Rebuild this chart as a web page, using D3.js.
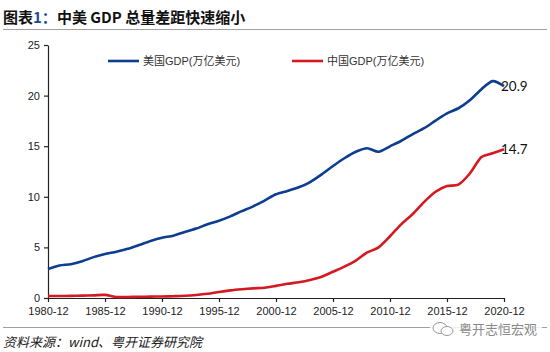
<!DOCTYPE html>
<html>
<head>
<meta charset="utf-8">
<script src="https://cdn.jsdelivr.net/npm/d3@7"></script>
<style>
  body { margin: 0; background: #fff; }
  svg { display: block; font-family: "Liberation Sans", Arial, "Noto Sans CJK SC", sans-serif; }
</style>
</head>
<body>
<div id="chart"></div>
<script>
// annual data, 1980 - 2020
var years = d3.range(1980, 2021);
var usGdp = [2.86, 3.21, 3.34, 3.63, 4.04, 4.34, 4.58, 4.86, 5.24, 5.64,
    5.96, 6.16, 6.52, 6.86, 7.29, 7.64, 8.07, 8.58, 9.06, 9.63,
    10.25, 10.58, 10.94, 11.46, 12.21, 13.04, 13.81, 14.45, 14.8, 14.45,
    14.99, 15.54, 16.2, 16.78, 17.53, 18.24, 18.75, 19.54, 20.61, 21.43, 20.94];
var cnGdp = [0.2, 0.2, 0.21, 0.23, 0.26, 0.31, 0.1, 0.1, 0.12, 0.14,
    0.15, 0.18, 0.22, 0.3, 0.42, 0.6, 0.75, 0.86, 0.95, 1.02,
    1.2, 1.4, 1.55, 1.78, 2.1, 2.6, 3.1, 3.7, 4.5, 5.0,
    6.1, 7.3, 8.3, 9.5, 10.5, 11.06, 11.2, 12.3, 13.9, 14.3, 14.7];
var xTicks = [1980, 1985, 1990, 1995, 2000, 2005, 2010, 2015, 2020];
var yTicks = [0, 5, 10, 15, 20, 25];
var seriesNames = ["美国GDP(万亿美元)", "中国GDP(万亿美元)"];
var colors = ["#0b3d91", "#d51920"];

var W = 550, H = 352;
var margin = { top: 45, right: 46, bottom: 54, left: 48 };

var svg = d3.select("#chart").append("svg")
    .attr("width", W)
    .attr("height", H);

// title
var title = svg.append("text")
    .attr("x", 3)
    .attr("y", 23)
    .style("font-family", "'Noto Sans CJK SC', sans-serif")
    .style("font-size", "15px")
    .style("font-weight", "bold")
    .attr("fill", "#111");
title.append("tspan").text("图表");
title.append("tspan").attr("fill", "#1f4a93").text("1：");
title.append("tspan").text("中美 GDP 总量差距快速缩小");

svg.append("line")
    .attr("x1", 3).attr("x2", 547)
    .attr("y1", 29.5).attr("y2", 29.5)
    .attr("stroke", "#a0a0a0")
    .attr("stroke-width", 1);

var x = d3.scaleLinear()
    .domain([1980, 2020])
    .range([margin.left, W - margin.right]);

var y = d3.scaleLinear()
    .domain([0, 25])
    .range([H - margin.bottom, margin.top]);

// axes
var xAxis = svg.append("g")
    .attr("transform", "translate(0," + (H - margin.bottom) + ")")
    .call(d3.axisBottom(x).tickValues(xTicks).tickSize(4).tickSizeOuter(0)
        .tickFormat(function (d) { return d + "-12"; }));

var yAxis = svg.append("g")
    .attr("transform", "translate(" + margin.left + ",0)")
    .call(d3.axisLeft(y).tickValues(yTicks).tickSize(4).tickSizeOuter(0));

[xAxis, yAxis].forEach(function (g) {
    g.selectAll("path, line").attr("stroke", "#222").attr("stroke-width", 1.2);
    g.selectAll("text")
        .style("font-family", "'Liberation Sans', Arial, sans-serif")
        .style("font-size", "11px")
        .attr("fill", "#222");
});
xAxis.selectAll("text").attr("dy", "0.95em");
yAxis.selectAll("text").attr("dx", "-1px");

// lines
var line = d3.line()
    .x(function (d, i) { return x(years[i]); })
    .y(function (d) { return y(d); })
    .curve(d3.curveCardinal.tension(0.2));

[usGdp, cnGdp].forEach(function (s, k) {
    svg.append("path")
        .datum(s)
        .attr("fill", "none")
        .attr("stroke", colors[k])
        .attr("stroke-width", 2.6)
        .attr("stroke-linejoin", "round")
        .attr("d", line);
});

// end labels
[usGdp, cnGdp].forEach(function (s) {
    var v = s[s.length - 1];
    svg.append("text")
        .attr("x", x(years[years.length - 1]) - 3)
        .attr("y", y(v) + 5)
        .style("font-family", "Lato, 'Liberation Sans', sans-serif")
        .style("font-size", "13.5px")
        .attr("fill", "#111")
        .text(v.toFixed(1));
});

// legend
var legendPos = [{ x: 108, y: 61 }, { x: 292, y: 61 }];
seriesNames.forEach(function (name, k) {
    var g = svg.append("g").attr("transform", "translate(" + legendPos[k].x + "," + legendPos[k].y + ")");
    g.append("line")
        .attr("x1", 0).attr("x2", 31)
        .attr("stroke", colors[k])
        .attr("stroke-width", 2.6);
    g.append("text")
        .attr("x", 35)
        .attr("y", 4)
        .style("font-size", "11px")
        .attr("fill", "#333")
        .text(name);
});

// footer
svg.append("line")
    .attr("x1", 3).attr("x2", 547)
    .attr("y1", 327.5).attr("y2", 327.5)
    .attr("stroke", "#a0a0a0")
    .attr("stroke-width", 1);

svg.append("text")
    .attr("x", 3)
    .attr("y", 347)
    .style("font-family", "'Noto Sans CJK SC', sans-serif")
    .style("font-size", "13px")
    .style("font-style", "italic")
    .attr("fill", "#222")
    .text("资料来源：wind、粤开证券研究院");

// watermark
var wm = svg.append("g").attr("transform", "translate(432,320)");
wm.append("rect").attr("x", -2).attr("y", 1).attr("width", 112).attr("height", 16).attr("fill", "#fff").attr("opacity", 0.85);
wm.append("ellipse").attr("cx", 8).attr("cy", 8).attr("rx", 7).attr("ry", 5.5)
    .attr("fill", "#fff").attr("stroke", "#9a9a9a").attr("stroke-width", 1);
wm.append("ellipse").attr("cx", 15).attr("cy", 11).attr("rx", 6).attr("ry", 4.5)
    .attr("fill", "#fff").attr("stroke", "#9a9a9a").attr("stroke-width", 1);
wm.append("text")
    .attr("x", 27)
    .attr("y", 14)
    .style("font-family", "'Noto Sans CJK SC', sans-serif")
    .style("font-size", "13px")
    .attr("fill", "#8a8a8a")
    .text("粤开志恒宏观");
</script>
</body>
</html>
